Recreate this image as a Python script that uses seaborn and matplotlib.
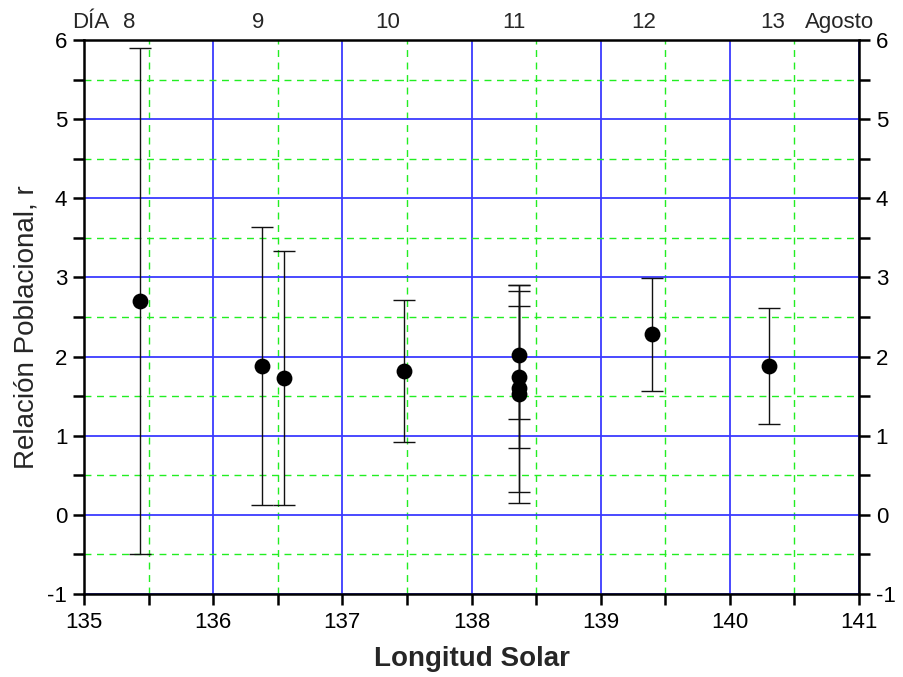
import matplotlib
matplotlib.use("Agg")
import matplotlib.pyplot as plt
import seaborn as sns
import pandas as pd
from matplotlib.ticker import MultipleLocator

# Data
longitud = [135.43, 136.38, 136.55, 137.48, 138.37, 138.37, 138.37, 138.37, 139.40, 140.30]
relacion = [2.70, 1.88, 1.73, 1.82, 2.02, 1.74, 1.60, 1.53, 2.28, 1.88]
error = [3.20, 1.76, 1.61, 0.90, 0.81, 0.90, 1.31, 1.38, 0.71, 0.73]
dias = ["8", "9", "10", "11", "12", "13"]
dia_pos = [135.35, 136.35, 137.35, 138.33, 139.33, 140.33]

df = pd.DataFrame({"Longitud": longitud, "r": relacion, "err": error})

sns.set_style("white")
plt.rcParams["font.family"] = ["Liberation Sans", "DejaVu Sans"]
plt.rcParams["axes.unicode_minus"] = False

fig = plt.figure(figsize=(9.04, 6.77), dpi=100)
ax = fig.add_axes([84/904, 83/677, (859-84)/904, (594-40)/677])

ax.set_xlim(135, 141)
ax.set_ylim(-1, 6)
ax.xaxis.set_major_locator(MultipleLocator(1))
ax.xaxis.set_minor_locator(MultipleLocator(0.5))
ax.yaxis.set_major_locator(MultipleLocator(1))
ax.yaxis.set_minor_locator(MultipleLocator(0.5))

ax.grid(which="major", color="#3a3aff", linewidth=1.3, linestyle="-")
ax.grid(which="minor", color="#22ee22", linewidth=1.0, linestyle=(0, (5, 4)))
ax.set_axisbelow(True)

ax.errorbar(df["Longitud"], df["r"], yerr=df["err"], fmt="none",
            ecolor="#111111", elinewidth=1.0, capsize=8, capthick=1.0, zorder=3)
sns.scatterplot(data=df, x="Longitud", y="r", ax=ax, color="black",
                s=130, edgecolor="black", linewidth=0, zorder=4, legend=False)

for s in ax.spines.values():
    s.set_linewidth(1.8)
    s.set_color("black")

ax.tick_params(which="both", direction="out", left=True, right=True, bottom=True,
               top=False, labelright=True, labelleft=True, width=1.8, colors="black",
               labelsize=16)
ax.tick_params(which="major", length=8)
ax.tick_params(which="minor", length=8)
ax.tick_params(axis="x", pad=5)
ax.tick_params(axis="y", pad=4)

ax.set_xlabel("Longitud Solar", fontsize=20, fontweight="bold", labelpad=9)
ax.set_ylabel("Relación Poblacional, r", fontsize=20, labelpad=2)
ax.yaxis.set_label_coords(-0.058, 0.482)

top = ax.twiny()
top.set_xlim(ax.get_xlim())
top.set_xticks([135.05] + dia_pos + [140.85])
top.set_xticklabels(["DÍA"] + dias + ["Agosto"], fontsize=16)
top.tick_params(axis="x", length=0, pad=5)
for s in top.spines.values():
    s.set_visible(False)

fig.savefig("out.png", dpi=100)
